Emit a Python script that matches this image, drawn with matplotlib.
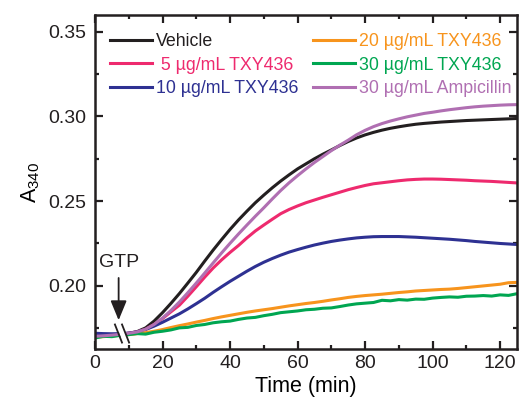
import matplotlib
matplotlib.use("Agg")
import matplotlib.pyplot as plt
from matplotlib.ticker import MultipleLocator, FormatStrFormatter
from matplotlib.patches import Polygon

plt.rcParams['font.family'] = ['Liberation Sans', 'DejaVu Sans']
plt.rcParams['mathtext.default'] = 'regular'

time = [0, 2.5, 5, 7.5, 10, 12.5, 15, 17.5, 20, 22.5, 25, 27.5, 30, 32.5, 35,
        37.5, 40, 42.5, 45, 47.5, 50, 52.5, 55, 57.5, 60, 62.5, 65, 67.5, 70,
        72.5, 75, 77.5, 80, 82.5, 85, 87.5, 90, 92.5, 95, 97.5, 100, 102.5,
        105, 107.5, 110, 112.5, 115, 117.5, 120, 122.5, 125]

vehicle = [0.1700, 0.1703, 0.1707, 0.1712, 0.1718, 0.1728, 0.1750, 0.1790,
           0.1840, 0.1895, 0.1953, 0.2015, 0.2078, 0.2145, 0.2210, 0.2272,
           0.2332, 0.2388, 0.2440, 0.2490, 0.2535, 0.2578, 0.2618, 0.2655,
           0.2690, 0.2720, 0.2750, 0.2777, 0.2802, 0.2828, 0.2852, 0.2873,
           0.2891, 0.2906, 0.2919, 0.2930, 0.2939, 0.2947, 0.2954, 0.2959,
           0.2963, 0.2967, 0.2970, 0.2973, 0.2976, 0.2978, 0.2980, 0.2982,
           0.2984, 0.2986, 0.2988]
txy5 = [0.1700, 0.1703, 0.1707, 0.1712, 0.1718, 0.1726, 0.1742, 0.1770,
        0.1805, 0.1845, 0.1884, 0.1937, 0.1993, 0.2050, 0.2104, 0.2152,
        0.2196, 0.2237, 0.2282, 0.2323, 0.2358, 0.2392, 0.2425, 0.2450,
        0.2471, 0.2490, 0.2506, 0.2522, 0.2537, 0.2552, 0.2567, 0.2580,
        0.2592, 0.2602, 0.2608, 0.2614, 0.2620, 0.2625, 0.2628, 0.2630,
        0.2630, 0.2629, 0.2627, 0.2625, 0.2623, 0.2620, 0.2618, 0.2616,
        0.2613, 0.2610, 0.2607]
txy10 = [0.1718, 0.1716, 0.1715, 0.1716, 0.1719, 0.1726, 0.1740, 0.1760,
         0.1783, 0.1808, 0.1833, 0.1862, 0.1893, 0.1925, 0.1960, 0.1993,
         0.2025, 0.2055, 0.2085, 0.2113, 0.2138, 0.2160, 0.2180, 0.2198,
         0.2213, 0.2227, 0.2240, 0.2251, 0.2261, 0.2269, 0.2276, 0.2282,
         0.2286, 0.2289, 0.2290, 0.2290, 0.2290, 0.2288, 0.2286, 0.2283,
         0.2280, 0.2277, 0.2274, 0.2270, 0.2266, 0.2261, 0.2257, 0.2253,
         0.2249, 0.2246, 0.2243]
txy20 = [0.1695, 0.1698, 0.1702, 0.1706, 0.1710, 0.1716, 0.1722, 0.1730,
         0.1740, 0.1752, 0.1763, 0.1773, 0.1784, 0.1794, 0.1805, 0.1815,
         0.1824, 0.1833, 0.1842, 0.1850, 0.1857, 0.1864, 0.1872, 0.1880,
         0.1887, 0.1894, 0.1900, 0.1907, 0.1915, 0.1922, 0.1930, 0.1936,
         0.1941, 0.1945, 0.1949, 0.1954, 0.1959, 0.1963, 0.1968, 0.1971,
         0.1974, 0.1977, 0.1979, 0.1983, 0.1988, 0.1993, 0.1998, 0.2003,
         0.2008, 0.2017, 0.2019]
txy30 = [0.1690, 0.1700, 0.1698, 0.1706, 0.1710, 0.1716, 0.1713, 0.1724,
         0.1730, 0.1738, 0.1750, 0.1753, 0.1764, 0.1770, 0.1780, 0.1786,
         0.1790, 0.1800, 0.1808, 0.1812, 0.1822, 0.1830, 0.1840, 0.1845,
         0.1850, 0.1857, 0.1860, 0.1866, 0.1868, 0.1876, 0.1885, 0.1892,
         0.1896, 0.1900, 0.1913, 0.1910, 0.1917, 0.1914, 0.1920, 0.1919,
         0.1926, 0.1930, 0.1933, 0.1931, 0.1937, 0.1938, 0.1941, 0.1938,
         0.1945, 0.1942, 0.1952]
ampicillin = [0.1700, 0.1703, 0.1707, 0.1712, 0.1718, 0.1726, 0.1742, 0.1770,
              0.1808, 0.1853, 0.1903, 0.1958, 0.2015, 0.2074, 0.2134, 0.2193,
              0.2250, 0.2305, 0.2358, 0.2410, 0.2460, 0.2512, 0.2562, 0.2608,
              0.2650, 0.2690, 0.2728, 0.2763, 0.2798, 0.2830, 0.2860, 0.2892,
              0.2918, 0.2940, 0.2958, 0.2973, 0.2986, 0.2998, 0.3008, 0.3018,
              0.3025, 0.3033, 0.3040, 0.3046, 0.3052, 0.3057, 0.3061, 0.3064,
              0.3067, 0.3069, 0.3070]

labels = ['Vehicle', ' 5 µg/mL TXY436', '10 µg/mL TXY436',
          '20 µg/mL TXY436', '30 µg/mL TXY436', '30 µg/mL Ampicillin']
colors = ['#231f20', '#ee2a6e', '#2e3192', '#f7941d', '#00a651', '#b06fb2']
series = [vehicle, txy5, txy10, txy20, txy30, ampicillin]

fig = plt.figure(figsize=(5.19, 4.04), dpi=100)
ax = fig.add_axes([95/519, 1-349/404, 422/519, 334/404])

handles = []
for s, c, l in zip(series, colors, labels):
    h, = ax.plot(time, s, color=c, lw=2.2, label=l, solid_joinstyle='round')
    handles.append(h)

ax.set_xlim(0, 125)
ax.set_ylim(0.1625, 0.36)
ax.xaxis.set_major_locator(MultipleLocator(20))
ax.xaxis.set_minor_locator(MultipleLocator(10))
ax.yaxis.set_major_locator(MultipleLocator(0.05))
ax.yaxis.set_minor_locator(MultipleLocator(0.025))
ax.yaxis.set_major_formatter(FormatStrFormatter('%.2f'))
ax.tick_params(which='both', direction='in', top=True, right=True,
               width=1.6, labelsize=14, colors='#231f20')
ax.tick_params(axis='y', pad=6)
ax.tick_params(axis='x', pad=4)
ax.tick_params(which='major', length=6)
ax.tick_params(which='minor', length=3)
for sp in ax.spines.values():
    sp.set_linewidth(1.8)
    sp.set_color('#231f20')

ax.set_xlabel('Time (min)', fontsize=15.5, labelpad=3)
ax.set_ylabel('A$_{340}$', fontsize=15.5, labelpad=5)

# axis break marks
poly = Polygon([(6.2, 0.1770), (8.0, 0.1770), (10.1, 0.1663), (8.3, 0.1663)],
               closed=True, facecolor='white', edgecolor='none', zorder=5)
ax.add_patch(poly)
for x0, y0, x1, y1 in [(5.9, 0.1770, 8.0, 0.1663), (8.0, 0.1770, 10.1, 0.1663)]:
    ax.plot([x0, x1], [y0, y1], color='#231f20', lw=1.3, zorder=6)

# GTP arrow
ax.annotate('', xy=(7.0, 0.1795), xytext=(7.0, 0.2045),
            arrowprops=dict(arrowstyle='-|>,head_length=0.8,head_width=0.33',
                            mutation_scale=15, color='#231f20', lw=1.3,
                            shrinkA=0, shrinkB=0), zorder=7)
ax.text(7.0, 0.2135, 'GTP', ha='center', va='center', fontsize=14,
        color='#231f20')

ax.legend(handles=handles, ncol=2, frameon=False,
          loc='upper left', bbox_to_anchor=(0.035, 0.946),
          borderpad=0, borderaxespad=0, fontsize=12.8,
          handlelength=2.4, handletextpad=0.2, columnspacing=0.8,
          labelspacing=0.37, labelcolor='linecolor')

fig.savefig('out.png', dpi=100)
